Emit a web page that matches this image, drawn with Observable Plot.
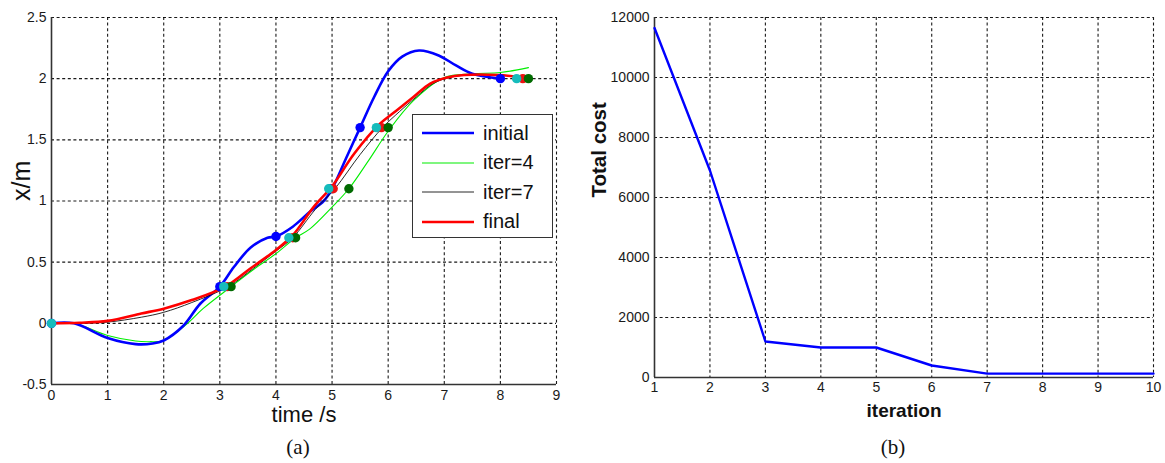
<!DOCTYPE html>
<html>
<head>
<meta charset="utf-8">
<script src="https://cdn.jsdelivr.net/npm/d3@7"></script>
<script src="https://cdn.jsdelivr.net/npm/@observablehq/plot@0.6"></script>
<style>
  body { margin: 0; background: #fff; }
  #wrap { position: relative; width: 1165px; height: 463px; font-family: Arial, "Liberation Sans", sans-serif; }
  .panel { position: absolute; top: 0; }
  .cap { position: absolute; width: 100px; text-align: center; font-family: "Times New Roman", "Liberation Serif", serif; font-size: 21px; color: #111; top: 435px; }
  #legend { position: absolute; left: 412px; top: 114px; width: 139px; height: 122px; border: 1.5px solid #333; background: #fff; }
  #legend .row { position: absolute; left: 0; height: 24px; display: flex; align-items: center; }
  #legend .row span { font-size: 20px; color: #111; }
</style>
</head>
<body>
<div id="wrap">
  <div class="panel" id="pa" style="left:0px"></div>
  <div class="panel" id="pb" style="left:580px"></div>
  <div id="legend"></div>
  <div class="cap" style="left:248px">(a)</div>
  <div class="cap" style="left:843px">(b)</div>
</div>
<script>
// ---------- Panel (a) data ----------
const tInitial = [0, 0.4, 1.0, 1.5, 1.8, 2.0, 2.35, 2.65, 3.0, 3.25, 3.55, 3.85, 4.0, 4.3, 4.6, 4.85, 5.0, 5.25, 5.5, 5.75, 6.0, 6.25, 6.55, 6.9, 7.2, 7.5, 8.0];
const xInitial = [0, 0, -0.12, -0.17, -0.165, -0.14, -0.02, 0.16, 0.30, 0.46, 0.62, 0.70, 0.71, 0.79, 0.91, 1.0, 1.1, 1.35, 1.6, 1.85, 2.06, 2.18, 2.23, 2.19, 2.11, 2.04, 2.0];

const tIter4 = [0, 0.4, 1.0, 1.5, 1.75, 2.0, 2.4, 2.7, 3.2, 3.6, 4.0, 4.35, 4.6, 5.0, 5.3, 5.65, 6.0, 6.45, 7.0, 7.5, 8.0, 8.5];
const xIter4 = [0, 0, -0.1, -0.145, -0.15, -0.14, -0.01, 0.12, 0.30, 0.44, 0.57, 0.70, 0.77, 0.95, 1.10, 1.33, 1.57, 1.82, 2.01, 2.04, 2.05, 2.09];

const tIter7 = [0, 0.5, 1.0, 1.6, 2.0, 2.5, 3.15, 3.6, 4.0, 4.3, 4.7, 5.05, 5.5, 5.9, 6.2, 6.5, 6.8, 7.1, 7.4, 8.0, 8.4];
const xIter7 = [0, 0, 0.01, 0.05, 0.09, 0.17, 0.30, 0.45, 0.59, 0.70, 0.93, 1.1, 1.38, 1.6, 1.73, 1.85, 1.96, 2.01, 2.03, 2.03, 2.01];

const tFinal = [0, 0.5, 1.0, 1.6, 2.0, 2.5, 3.1, 3.55, 4.0, 4.3, 4.67, 5.0, 5.4, 5.85, 6.15, 6.45, 6.75, 7.05, 7.35, 7.95, 8.4];
const xFinal = [0, 0.005, 0.02, 0.08, 0.12, 0.19, 0.30, 0.45, 0.60, 0.72, 0.95, 1.12, 1.39, 1.63, 1.74, 1.85, 1.96, 2.01, 2.03, 2.03, 2.01];

// waypoint markers
const tMarkBlue = [0, 3.0, 4.0, 4.97, 5.5, 8.0];
const xMarkBlue = [0, 0.3, 0.71, 1.1, 1.6, 2.0];
const tMarkGreen = [3.2, 4.35, 5.3, 6.0, 8.5];
const xMarkGreen = [0.3, 0.7, 1.1, 1.6, 2.0];
const tMarkRed = [3.13, 4.3, 5.02, 5.88, 8.4];
const xMarkRed = [0.3, 0.7, 1.1, 1.6, 2.0];
const tMarkCyan = [0, 3.07, 4.23, 4.94, 5.79, 8.29];
const xMarkCyan = [0, 0.3, 0.7, 1.1, 1.6, 2.0];

const xTicksA = [0, 1, 2, 3, 4, 5, 6, 7, 8, 9];
const yTicksA = [-0.5, 0, 0.5, 1, 1.5, 2, 2.5];

// ---------- Panel (b) data ----------
const iterations = [1, 2, 3, 4, 5, 6, 7, 8, 9, 10];
const totalCost = [11650, 6900, 1200, 1000, 1000, 400, 130, 130, 130, 130];
const xTicksB = [1, 2, 3, 4, 5, 6, 7, 8, 9, 10];
const yTicksB = [0, 2000, 4000, 6000, 8000, 10000, 12000];

const legendNames = ["initial", "iter=4", "iter=7", "final"];

const zip = (t, x) => t.map((d, i) => ({t: d, x: x[i]}));
const gridStyle = {stroke: "#000", strokeOpacity: 0.9, strokeDasharray: "3,2.6", strokeWidth: 1.1};
const fontStyle = {fontFamily: "Arial, 'Liberation Sans', sans-serif", fontSize: "14px", color: "#1a1a1a", background: "transparent"};
const tickFont = 14;

const plotA = Plot.plot({
  width: 575, height: 432,
  marginLeft: 51, marginRight: 19, marginTop: 17, marginBottom: 48,
  style: fontStyle,
  x: {domain: [0, 9]},
  y: {domain: [-0.5, 2.5]},
  marks: [
    Plot.gridX(xTicksA.filter(d => d > 0), gridStyle),
    Plot.gridY(yTicksA.filter(d => d > -0.5), gridStyle),
    Plot.ruleX([0], {stroke: "#333", strokeWidth: 1.6}),
    Plot.ruleY([-0.5], {stroke: "#333", strokeWidth: 1.6}),
    Plot.axisX({ticks: xTicksA, tickSize: 0, tickPadding: 6, label: null, fontSize: tickFont, tickFormat: d => String(d)}),
    Plot.axisY({ticks: yTicksA, tickSize: 0, tickPadding: 5, label: null, fontSize: tickFont, tickFormat: d => String(d)}),
    Plot.line(zip(tIter4, xIter4), {x: "t", y: "x", stroke: "#00ee00", strokeWidth: 1.1, curve: "catmull-rom"}),
    Plot.line(zip(tInitial, xInitial), {x: "t", y: "x", stroke: "#0000ff", strokeWidth: 2.6, curve: "catmull-rom"}),
    Plot.line(zip(tIter7, xIter7), {x: "t", y: "x", stroke: "#111", strokeWidth: 0.9, curve: "catmull-rom"}),
    Plot.line(zip(tFinal, xFinal), {x: "t", y: "x", stroke: "#ff0000", strokeWidth: 2.6, curve: "catmull-rom"}),
    Plot.dot(zip(tMarkBlue, xMarkBlue), {x: "t", y: "x", r: 4.7, fill: "#0000ff"}),
    Plot.dot(zip(tMarkRed, xMarkRed), {x: "t", y: "x", r: 4.7, fill: "#ee1111"}),
    Plot.dot(zip(tMarkGreen, xMarkGreen), {x: "t", y: "x", r: 4.7, fill: "#006a00"}),
    Plot.dot(zip(tMarkCyan, xMarkCyan), {x: "t", y: "x", r: 4.7, fill: "#16bcbc"}),
    Plot.text(["x/m"], {frameAnchor: "left", lineAnchor: "middle", dx: -30, rotate: -90, fontSize: 25, fill: "#111", text: d => d}),
    Plot.text(["time /s"], {frameAnchor: "bottom", lineAnchor: "top", dy: 22, fontSize: 22, fill: "#111", text: d => d})
  ]
});
document.getElementById("pa").appendChild(plotA);

const plotB = Plot.plot({
  width: 585, height: 432,
  marginLeft: 74, marginRight: 12, marginTop: 17, marginBottom: 55,
  style: fontStyle,
  x: {domain: [1, 10]},
  y: {domain: [0, 12000]},
  marks: [
    Plot.gridX(xTicksB.filter(d => d > 1), gridStyle),
    Plot.gridY(yTicksB.filter(d => d > 0), gridStyle),
    Plot.ruleX([1], {stroke: "#333", strokeWidth: 1.6}),
    Plot.ruleY([0], {stroke: "#333", strokeWidth: 1.6}),
    Plot.axisX({ticks: xTicksB, tickSize: 0, tickPadding: 5, label: null, fontSize: tickFont, tickFormat: d => String(d)}),
    Plot.axisY({ticks: yTicksB, tickSize: 0, tickPadding: 5, label: null, fontSize: tickFont, tickFormat: d => String(d)}),
    Plot.line(iterations.map((d, i) => ({it: d, c: totalCost[i]})), {x: "it", y: "c", stroke: "#0000ff", strokeWidth: 2.4}),
    Plot.text(["Total cost"], {frameAnchor: "left", lineAnchor: "middle", dx: -55, dy: 0, rotate: -90, fontSize: 20.5, fontWeight: "bold", fill: "#111", text: d => d}),
    Plot.text(["iteration"], {frameAnchor: "bottom", lineAnchor: "top", dy: 26, fontSize: 19, fontWeight: "bold", fill: "#111", text: d => d})
  ]
});
document.getElementById("pb").appendChild(plotB);

// legend for panel (a)
const legendStyles = [
  {stroke: "#0000ff", w: 2.6},
  {stroke: "#00ee00", w: 1.1},
  {stroke: "#111", w: 0.9},
  {stroke: "#ff0000", w: 2.6}
];
const leg = document.getElementById("legend");
legendNames.forEach((name, i) => {
  const row = document.createElement("div");
  row.className = "row";
  row.style.top = (6 + i * 29.5) + "px";
  row.innerHTML = `<svg width="62" height="24" style="margin-left:9px"><line x1="0" x2="52" y1="12" y2="12" stroke="${legendStyles[i].stroke}" stroke-width="${legendStyles[i].w}"/></svg><span style="margin-left:-1px">${name}</span>`;
  leg.appendChild(row);
});
</script>
</body>
</html>
